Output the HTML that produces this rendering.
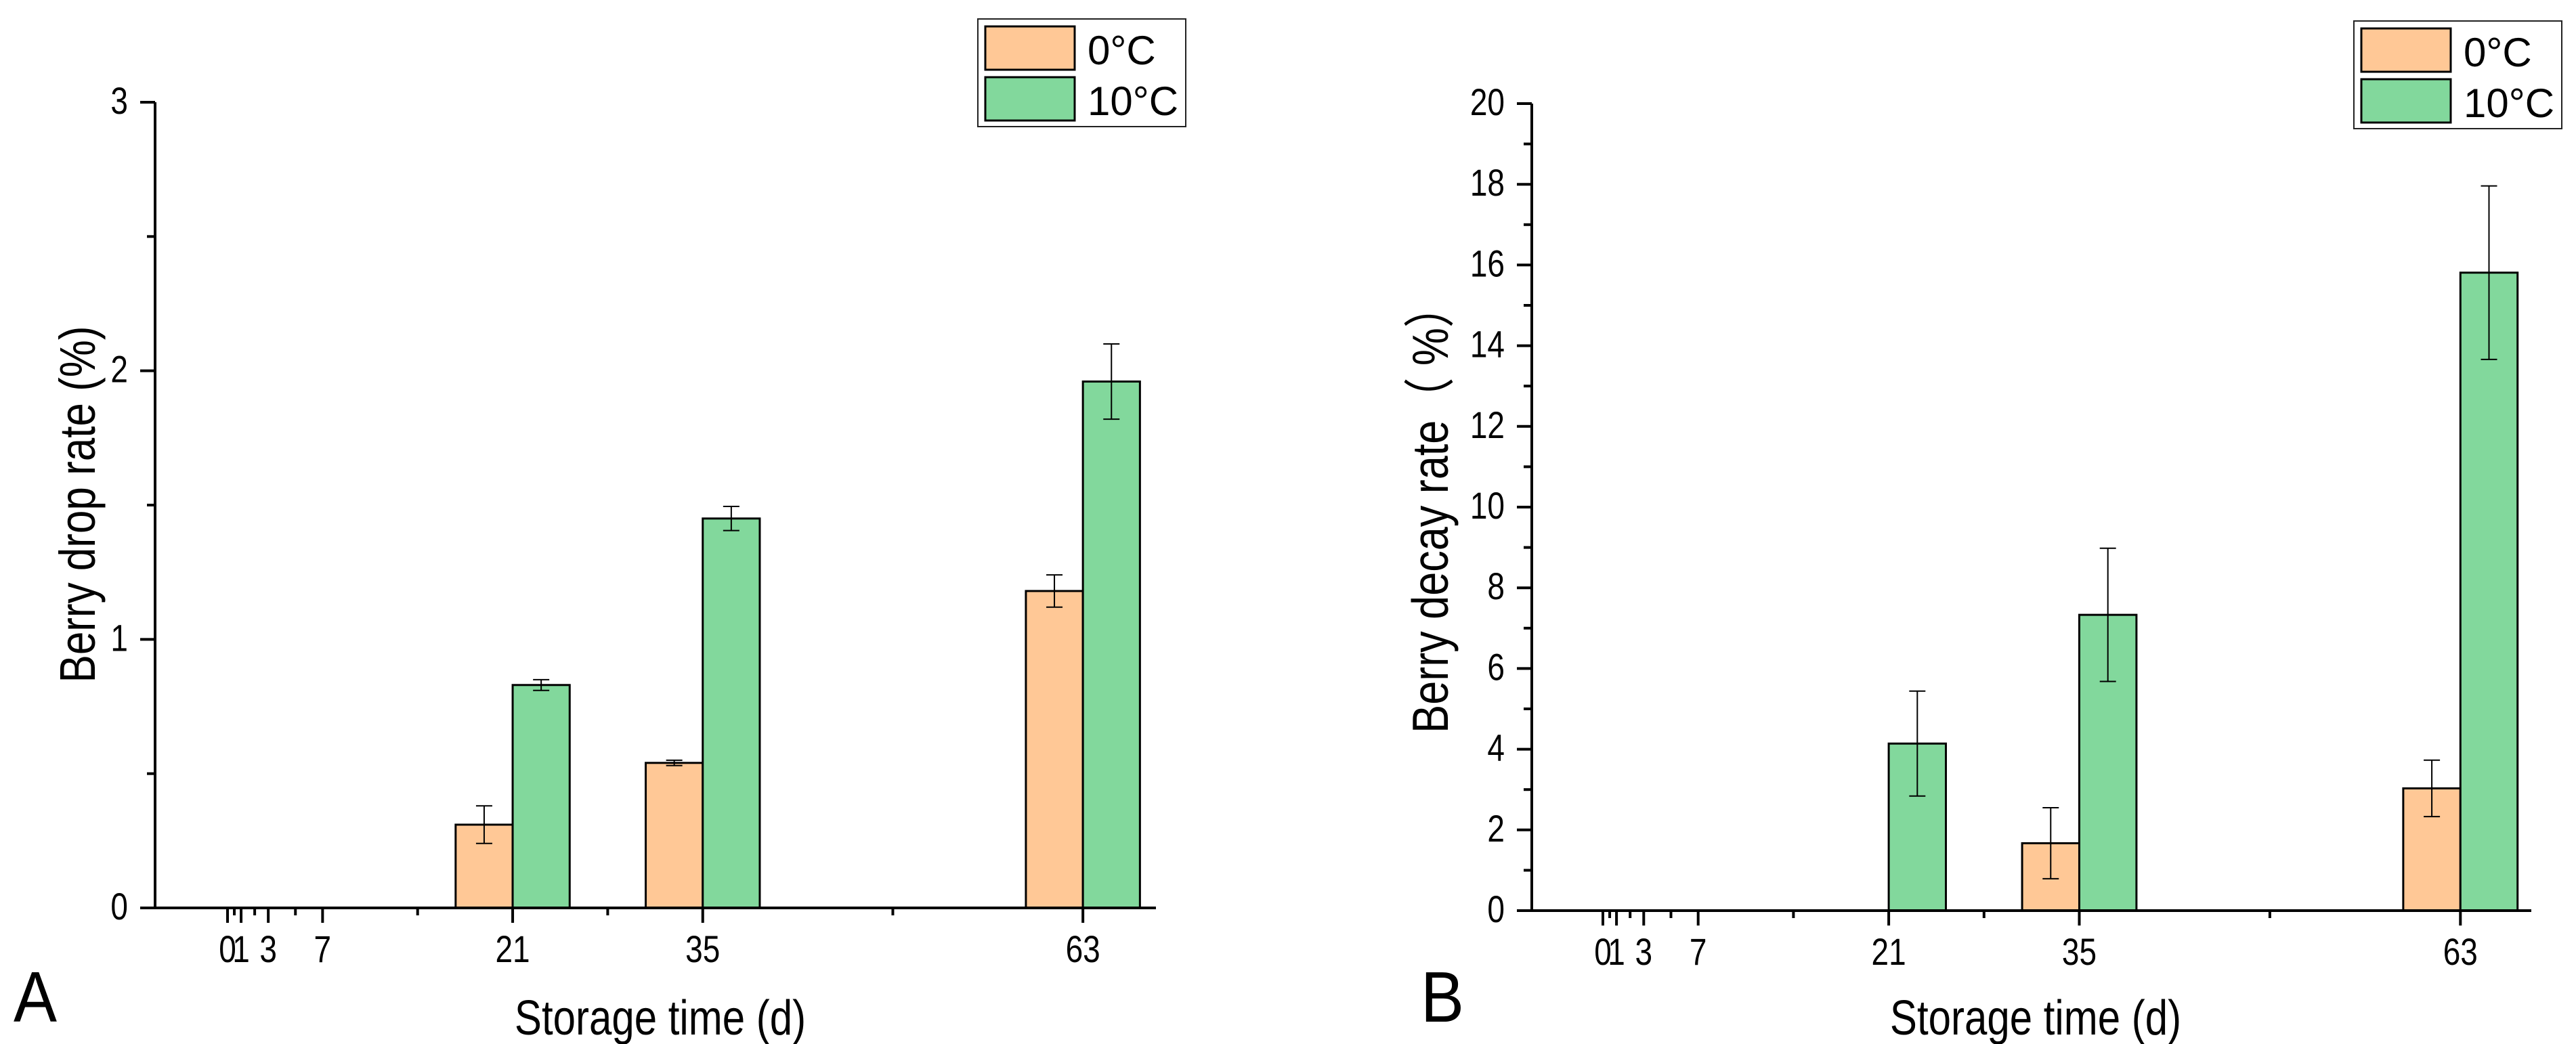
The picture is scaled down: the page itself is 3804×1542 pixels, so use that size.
<!DOCTYPE html>
<html><head><meta charset="utf-8"><style>
html,body{margin:0;padding:0;background:#fff;}
svg{display:block;font-family:"Liberation Sans","Noto Sans CJK SC",sans-serif;}
</style></head><body>
<svg id="chart" width="3804" height="1542" viewBox="0 0 3804 1542" xmlns="http://www.w3.org/2000/svg"></svg>
<script>
const days = [21, 35, 63];
const dropCold = [0.31, 0.54, 1.18];
const dropColdErr = [0.07, 0.01, 0.06];
const dropWarm = [0.83, 1.45, 1.96];
const dropWarmErr = [0.02, 0.045, 0.14];
const decayCold = [0, 1.67, 3.03];
const decayColdErr = [0, 0.88, 0.7];
const decayWarm = [4.14, 7.33, 15.81];
const decayWarmErr = [1.3, 1.65, 2.15];
const xMajorTicks = [0, 1, 3, 7, 21, 35, 63];
const xMinorTicks = [0.5, 2, 5, 14, 28, 49];
const ticksA = [0, 1, 2, 3];
const ticksB = [0, 2, 4, 6, 8, 10, 12, 14, 16, 18, 20];
const seriesNames = ["0°C", "10°C"];

const NS = "http://www.w3.org/2000/svg";
const svg = document.getElementById("chart");
const COLD = "#ffc896", WARM = "#82d89c";
function mk(tag, attrs, parent) {
  const e = document.createElementNS(NS, tag);
  for (const k in attrs) e.setAttribute(k, attrs[k]);
  (parent || svg).appendChild(e);
  return e;
}
function txt(parent, x, y, s, size, anchor, rot) {
  const t = mk("text", {x: 0, y: 0, "font-size": size, "text-anchor": anchor || "middle", fill: "#000"}, parent);
  t.textContent = s;
  if (rot) t.setAttribute("transform", `translate(${x},${y}) rotate(-90) scale(1,1.2)`);
  else t.setAttribute("transform", `translate(${x},${y}) scale(1,1.2)`);
  return t;
}

function panel(cfg) {
  const g = mk("g", {});
  
  
  const xs = d => cfg.x0 + d * cfg.pxDay;
  const ys = v => cfg.y0 - (v - 0) / cfg.ymax * (cfg.y0 - cfg.yTop);
  const bw = 4.2 * cfg.pxDay;
  for (let i = 0; i < days.length; i++) {
    const c = xs(days[i]);
    const vals = [[cfg.cold[i], cfg.coldErr[i], c - bw, COLD, "cold"], [cfg.warm[i], cfg.warmErr[i], c, WARM, "warm"]];
    for (const [v, e, bx, col, nm] of vals) {
      if (v <= 0) continue;
      const r = mk("rect", {x: bx, y: ys(v), width: bw, height: ys(0) - ys(v), fill: col, stroke: "#000", "stroke-width": 3}, g);
      
      
      const mx = bx + bw / 2;
      const eb = mk("path", {d: `M${mx},${ys(v + e)}V${ys(v - e)}M${mx - 12},${ys(v + e)}H${mx + 12}M${mx - 12},${ys(v - e)}H${mx + 12}`, stroke: "#000", "stroke-width": 2, fill: "none"}, g);
      
      
    }
  }
  const xEnd = cfg.xEnd;
  const ax = mk("path", {d: `M${cfg.x0axis},${cfg.yTop}V${cfg.y0}H${xEnd}`, stroke: "#000", "stroke-width": 4, fill: "none"}, g);
  
  
  cfg.ticks.forEach(v => {
    mk("line", {x1: cfg.x0axis - 22, x2: cfg.x0axis, y1: ys(v), y2: ys(v), stroke: "#000", "stroke-width": 4}, g);
    const t = txt(g, cfg.x0axis - 40, ys(v) + 17, String(v), 46, "end");
    
    
  });
  cfg.minor.forEach(v => {
    mk("line", {x1: cfg.x0axis - 12, x2: cfg.x0axis, y1: ys(v), y2: ys(v), stroke: "#000", "stroke-width": 4}, g);
  });
  xMajorTicks.forEach(d => {
    mk("line", {x1: xs(d), x2: xs(d), y1: cfg.y0, y2: cfg.y0 + 22, stroke: "#000", "stroke-width": 4}, g);
    const t = txt(g, xs(d), cfg.y0 + 80, String(d), 46, "middle");
    
    
  });
  xMinorTicks.forEach(d => {
    mk("line", {x1: xs(d), x2: xs(d), y1: cfg.y0, y2: cfg.y0 + 11, stroke: "#000", "stroke-width": 4}, g);
  });
  const xt = txt(g, cfg.x0 + 639, 1528, "Storage time (d)", 60, "middle");
  
  
  const yt = txt(g, cfg.yTitleX, cfg.yTitleY, cfg.yTitle, cfg.yTitleSize, "middle", true);
  
  
  const pl = mk("text", {x: 0, y: 0, "font-size": 96, "text-anchor": "start", transform: `translate(${cfg.letterX},1509) scale(1,1.1)`}, g);
  pl.textContent = cfg.letter;
  
  
  const lg = mk("g", {}, g);
  
  
  const L = cfg.legX, T = cfg.legY;
  mk("rect", {x: L, y: T, width: 307, height: 159, fill: "#fff", stroke: "#222", "stroke-width": 2}, lg);
  [[COLD, seriesNames[0]], [WARM, seriesNames[1]]].forEach(([col, s], i) => {
    const e = mk("g", {}, lg);
    
    
    mk("rect", {x: L + 11, y: T + 11 + i * 75, width: 132, height: 64, fill: col, stroke: "#000", "stroke-width": 3}, e);
    const t = mk("text", {x: L + 162, y: T + 67 + i * 75, "font-size": 60}, e);
    t.textContent = s;
  });
}

panel({name: "panel-a-drop-rate", x0: 336, pxDay: 20.05, x0axis: 229, xEnd: 1707, y0: 1341, yTop: 151, ymax: 3,
  ticks: ticksA, minor: [0.5, 1.5, 2.5], cold: dropCold, coldErr: dropColdErr, warm: dropWarm, warmErr: dropWarmErr,
  yTitle: "Berry drop rate (%)", yTitleSize: 62, yTitleX: 140, yTitleY: 745, letter: "A", letterX: 20, legX: 1444, legY: 28});
panel({name: "panel-b-decay-rate", x0: 2367, pxDay: 20.1, x0axis: 2262, xEnd: 3738, y0: 1345, yTop: 153, ymax: 20,
  ticks: ticksB, minor: [1, 3, 5, 7, 9, 11, 13, 15, 17, 19], cold: decayCold, coldErr: decayColdErr, warm: decayWarm, warmErr: decayWarmErr,
  yTitle: "Berry decay rate（ %）", yTitleSize: 63, yTitleX: 2138, yTitleY: 752, letter: "B", letterX: 2098, legX: 3476, legY: 31});
</script>
</body></html>
